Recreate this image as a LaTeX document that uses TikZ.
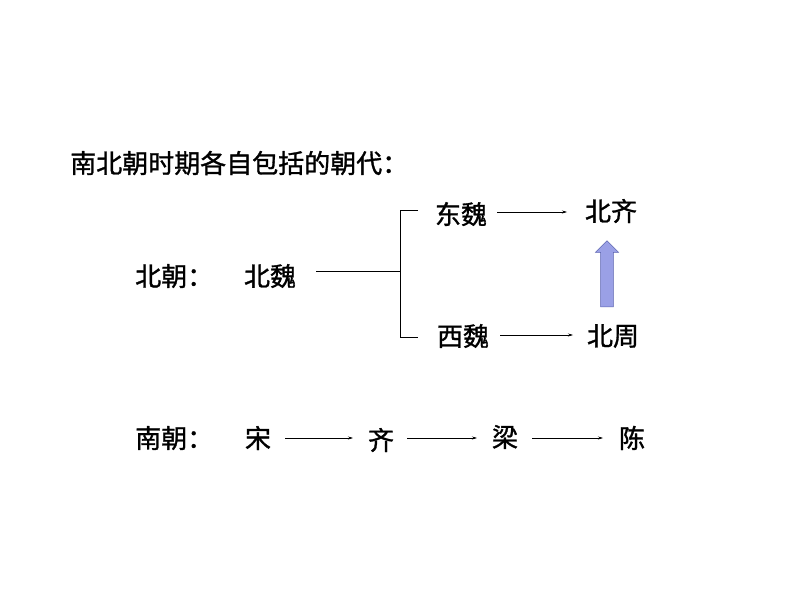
\documentclass[tikz,border=0pt]{standalone}
\usepackage{fontspec}
\setmainfont{Noto Sans CJK SC}
\newfontfamily\lblfont{Noto Sans CJK SC}[FakeBold=1.2]
\usetikzlibrary{arrows.meta,shapes.arrows}
\definecolor{arrfill}{HTML}{9AA0E6}
\definecolor{arrline}{HTML}{5A62B0}
\begin{document}
\begin{tikzpicture}[x=1pt,y=-1pt,
  lbl/.style={font=\lblfont\fontsize{26}{28}\selectfont,inner sep=0pt,anchor=center},
  conn/.style={line width=0.6pt,-{Stealth[length=5pt,width=3pt]}},
  brk/.style={line width=0.6pt}]
\useasboundingbox (0,0) rectangle (794,596);
\node[lbl,anchor=west] (title) at (70,163) {南北朝时期各自包括的朝代：};
\node[lbl,anchor=west] (bc) at (135,276) {北朝：};
\node[lbl] (bw) at (270,276) {北魏};
\node[lbl] (dw) at (461,214) {东魏};
\node[lbl] (bq) at (611,211) {北齐};
\node[lbl] (xw) at (463,336) {西魏};
\node[lbl] (bz) at (613,336) {北周};
\coordinate (j) at (400,271);
\coordinate (jt) at (400,210);
\coordinate (jb) at (400,337);
\draw[brk] (316,271) -- (j);
\draw[brk] (418,210) -- (jt) -- (jb) -- (418,337);
\draw[conn] (497,212) -- (567,212);
\draw[conn] (500,335) -- (573,335);
\node[single arrow,draw=arrline,fill=arrfill,line width=0.5pt,shape border rotate=90,
  minimum height=66pt,minimum width=23pt,single arrow head extend=5pt,inner sep=6pt,
  single arrow head indent=0pt] (ua) at (607,277) {};
\node[lbl,anchor=west] (nc) at (135,438) {南朝：};
\node[lbl] (s) at (258,438) {宋};
\node[lbl] (q) at (381,440) {齐};
\node[lbl] (l) at (505,437) {梁};
\node[lbl] (c) at (632,438) {陈};
\draw[conn] (285,438) -- (353,438);
\draw[conn] (407,438) -- (477,438);
\draw[conn] (532,438) -- (603,438);
\end{tikzpicture}
\end{document}
